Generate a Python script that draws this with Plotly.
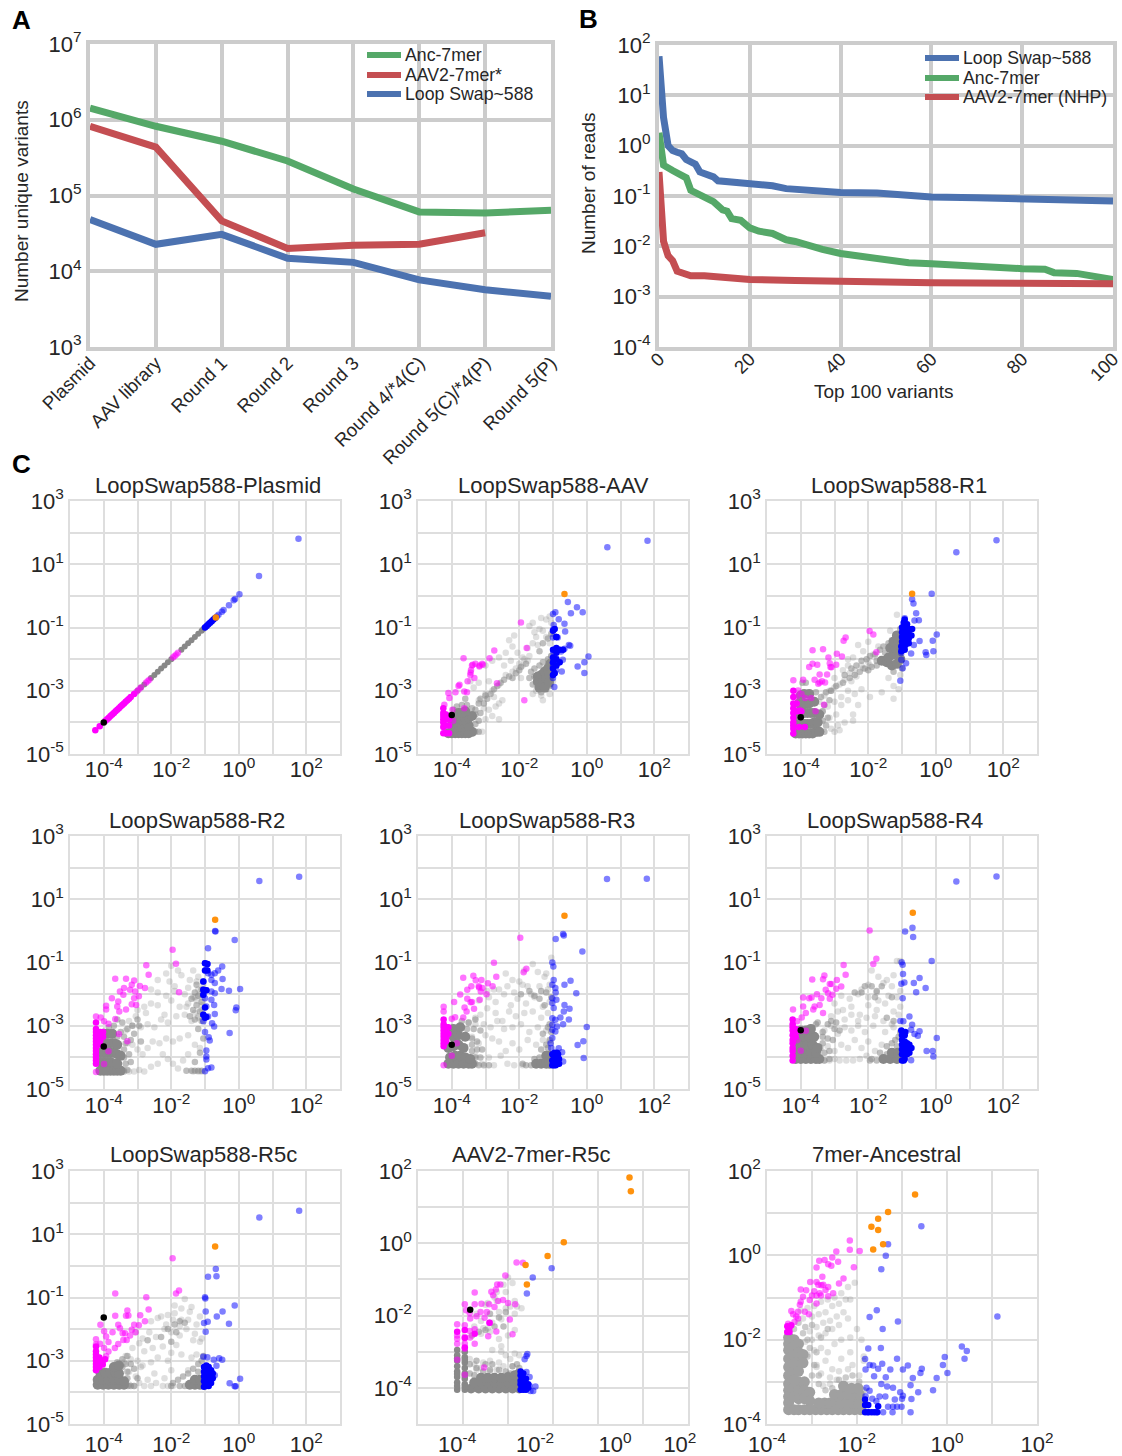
import plotly.graph_objects as go

FONT = "Liberation Sans"
INK = "#262626"
W, H = 1122, 1456

# ---------- Panel A ----------
ROUNDS = ["Plasmid", "AAV library", "Round 1", "Round 2", "Round 3", "Round 4/*4(C)", "Round 5(C)/*4(P)", "Round 5(P)"]
A_ANC = [1420000, 820000, 520000, 286000, 122000, 60700, 58900, 63700]
A_AAV2 = [820000, 435000, 46200, 20000, 22000, 22700, 32300]
A_LOOP = [48200, 22700, 30700, 14800, 13100, 7700, 5700, 4680]

# ---------- Panel B ----------
B_LOOP_X = [0, 1, 2, 3, 4, 5, 6, 7, 8, 9, 10, 12, 13, 16, 18, 22, 25, 28, 30, 33, 36, 40, 48, 55, 60, 70, 80, 90, 100]
B_LOOP_Y = [60, 3.6, 1.0, 0.8, 0.74, 0.69, 0.53, 0.47, 0.43, 0.3, 0.28, 0.24, 0.2, 0.19, 0.18, 0.175, 0.16, 0.14, 0.136, 0.125, 0.12, 0.117, 0.115, 0.105, 0.096, 0.092, 0.09, 0.082, 0.08]
B_ANC_X = [0, 1, 3, 5, 6, 7, 9, 10, 12, 14, 15, 16, 18, 20, 22, 25, 28, 30, 33, 36, 40, 43, 45, 50, 55, 60, 65, 70, 73, 80, 85, 87, 92, 95, 100]
B_ANC_Y = [1.8, 0.41, 0.32, 0.245, 0.23, 0.13, 0.107, 0.095, 0.077, 0.053, 0.05, 0.0355, 0.033, 0.0233, 0.02, 0.018, 0.0135, 0.0125, 0.01, 0.0087, 0.0072, 0.0067, 0.0059, 0.0053, 0.0047, 0.0045, 0.0042, 0.0041, 0.0037, 0.0036, 0.0035, 0.003, 0.0029, 0.0026, 0.0022]
B_AAV2_X = [0, 1, 2, 3, 4, 5, 7, 10, 15, 20, 30, 40, 60, 80, 100]
B_AAV2_Y = [0.3, 0.0126, 0.0065, 0.0052, 0.0032, 0.003, 0.0026, 0.0026, 0.0023, 0.0022, 0.0021, 0.002, 0.0019, 0.00185, 0.0018]

# ---------- Panel C: values are log10 of the axis values ----------
# 1 LoopSwap588-Plasmid
P1_GD_X = [-3, -2.9, -2.8, -2.6, -2.5, -2.4, -2.3, -2.2, -2.1, -2.0, -1.7, -1.6, -1.5, -1.4, -1.3, -1.2, -1.1, -1.05]
P1_GD_Y = [-3, -2.9, -2.8, -2.6, -2.5, -2.4, -2.3, -2.2, -2.1, -2.0, -1.7, -1.6, -1.5, -1.4, -1.3, -1.2, -1.1, -1.05]
P1_GM_X, P1_GM_Y = [], []
P1_GS_X, P1_GS_Y = [], []
P1_MD_X = [-4.25, -4.12, -3.95, -3.9, -3.85, -3.8, -3.75, -3.7, -3.65, -3.6, -3.55, -3.5, -3.45, -3.4, -3.35, -3.3, -3.25, -3.2, -3.1]
P1_MD_Y = [-4.25, -4.12, -3.95, -3.9, -3.85, -3.8, -3.75, -3.7, -3.65, -3.6, -3.55, -3.5, -3.45, -3.4, -3.35, -3.3, -3.25, -3.2, -3.1]
P1_M_X = [-3.03, -2.97, -2.9, -2.75, -2.7, -2.65, -1.95, -1.9, -1.85, -1.8]
P1_M_Y = [-3.03, -2.97, -2.9, -2.75, -2.7, -2.65, -1.95, -1.9, -1.85, -1.8]
P1_BD_X = [-1, -0.95, -0.9, -0.85, -0.8, -0.75, -0.7]
P1_BD_Y = [-1, -0.95, -0.9, -0.85, -0.8, -0.75, -0.7]
P1_B_X = [1.77, 0.6, 0.02, -0.11, -0.15, -0.29, -0.45, -0.5, -0.6, -0.65]
P1_B_Y = [1.81, 0.63, 0.05, -0.1, -0.14, -0.3, -0.45, -0.5, -0.6, -0.65]
P1_O_X = [-0.68]
P1_O_Y = [-0.68]
P1_K_X = [-4]
P1_K_Y = [-4]

# 2 LoopSwap588-AAV
P2_GD_X = [-4.1, -4.0, -3.9, -3.8, -3.7, -3.6, -3.5, -3.4, -4.0, -3.9, -3.8, -3.7, -3.6, -3.5, -3.9, -3.8, -3.7, -3.6, -3.5, -3.4, -3.8, -3.7, -3.6, -1.45, -1.35, -1.25, -1.15, -1.08, -1.45, -1.3, -1.2, -1.1, -1.4, -1.25, -1.12]
P2_GD_Y = [-4.34, -4.34, -4.34, -4.34, -4.34, -4.34, -4.34, -4.3, -4.1, -4.15, -4.1, -4.15, -4.1, -4.1, -3.95, -3.9, -3.9, -3.9, -3.85, -3.8, -3.7, -3.7, -3.65, -2.55, -2.5, -2.4, -2.3, -2.15, -2.7, -2.7, -2.6, -2.5, -2.9, -2.9, -2.75]
P2_GM_X = [-3.3, -3.2, -3.3, -3.2, -3.4, -3.55, -3.7, -3.85, -3.3, -3.15, -3.05, -2.95, -2.85, -2.75, -2.65, -2.55, -2.45, -2.3, -2.1, -1.95, -1.7, -1.65, -1.55, -1.4, -1.3, -1.15, -1.05, -1.6, -1.35, -1.2, -1.1, -1.05, -1.3, -1.15, -1.05, -1.4, -3.6, -3.95, -3.3, -3.2, -3.15, -2.2, -2.0, -1.8, -3.0, -1.55, -1.5]
P2_GM_Y = [-4.3, -4.3, -4.05, -3.95, -3.55, -3.45, -3.45, -3.5, -3.75, -3.7, -3.4, -3.25, -3.1, -2.95, -2.85, -2.75, -2.65, -2.55, -2.45, -2.25, -2.6, -2.4, -2.3, -2.2, -2.1, -2.0, -1.9, -2.8, -3.05, -2.95, -2.85, -2.65, -1.5, -1.35, -1.2, -1.75, -3.25, -3.6, -3.6, -3.4, -3.25, -2.6, -2.35, -2.15, -3.15, -2.55, -2.75]
P2_GS_X = [-3.2, -3, -2.8, -2.6, -2.4, -2.2, -2, -1.85, -1.7, -2.9, -2.2, -2.4, -2.6, -2.8, -3, -2.15, -2.3, -1.5, -1.6, -1.4, -1.6, -1.2, -1.05, -1.35, -1.7, -1.3, -1.1, -1.05, -1.75, -1.9, -2.1, -2.5, -2.7, -2.6, -3.1, -3, -2.8, -2.6, -1.6, -1.3, -1.5, -1.1, -1, -2.05, -2.25, -2.45, -1.95, -1.55, -1.45, -1.2, -1.9, -1.75, -3.35, -3.2, -3.05, -2.9, -2.75, -1.35, -1.1, -3.45, -1.0]
P2_GS_Y = [-3.3, -3.1, -3, -2.8, -2.5, -2.4, -2.15, -2, -1.9, -2.7, -1.6, -1.8, -1.95, -2.05, -2.2, -1.25, -1.4, -1.3, -1.5, -1.05, -0.85, -0.75, -0.85, -0.7, -0.95, -1.1, -1.5, -1.9, -2.05, -2.2, -2.3, -3.3, -3.5, -3.9, -4.3, -3.9, -3.8, -3.4, -3.1, -3.3, -3, -3.1, -2.7, -1.8, -2.05, -2.2, -2.6, -1.15, -1.55, -1.3, -1.95, -1.65, -2.9, -2.75, -3.55, -3.6, -3.2, -3.15, -0.65, -2.7, -1.2]
P2_MD_X = [-4.25, -4.25, -4.25, -4.25, -4.25, -4.25, -4.25, -4.17, -4.17, -4.17, -4.17, -4.08, -4.08, -4.08]
P2_MD_Y = [-3.55, -3.7, -3.8, -3.9, -4.0, -4.15, -4.34, -3.75, -3.9, -4.1, -4.34, -3.9, -4.1, -4.34]
P2_M_X = [-3.65, -2.74, -2.88, -3.08, -3.18, -3.3, -3.38, -3.43, -3.33, -3.53, -3.45, -3.77, -2.66, -1.95, -1.78, -1.85, -4.1, -3.89, -4.07, -3.63, -4.22, -3.55, -3.8, -3.98, -3.96, -3.63, -3.18, -3.1, -3.4, -3.44]
P2_M_Y = [-1.97, -1.73, -1.97, -2.18, -2.23, -2.15, -2.18, -2.34, -2.6, -2.7, -2.5, -2.81, -2.76, -0.84, -1.65, -3.3, -3.07, -3.05, -3.23, -3.02, -3.44, -3.05, -2.85, -3.6, -3.95, -3.55, -2.2, -2.15, -2.2, -2.42]
P2_BD_X = [-1, -1, -1, -1, -1, -0.9, -0.9, -0.9, -0.9, -0.8, -0.8, -0.9, -0.7, -0.95, -1, -0.9, -0.95]
P2_BD_Y = [-1.1, -1.7, -1.95, -2.1, -2.3, -1.65, -1.8, -2, -2.2, -1.7, -2.1, -1.3, -1.7, -2.45, -2.5, -1.3, -1.05]
P2_B_X = [0.61, 1.8, -0.56, -0.29, -0.12, -0.47, -0.93, -1, -0.83, -0.66, -0.98, -0.64, -1, -0.86, -1, -0.53, -0.49, -0.66, -0.86, -0.76, -0.99, 0.05, -0.07, -0.27, -0.07, -0.71, -0.91, -1, -0.86, -0.74, -0.91, -1, -0.96, -1, -0.96]
P2_B_Y = [1.54, 1.74, -0.19, -0.36, -0.52, -0.55, -0.52, -0.57, -0.74, -0.88, -0.92, -1.13, -1.07, -1.32, -1.32, -1.55, -1.58, -1.67, -1.7, -1.76, -1.79, -1.92, -2.1, -2.23, -2.44, -2.02, -1.97, -2.13, -2.13, -2.39, -2.34, -2.6, -2.88, -2.23, -2.44]
P2_O_X = [-0.66]
P2_O_Y = [0.06]
P2_K_X = [-4]
P2_K_Y = [-3.77]

# 3 LoopSwap588-R1
P3_GD_X = [-4.15, -4.05, -3.95, -3.85, -3.75, -3.65, -3.55, -3.45, -4.1, -4.0, -3.9, -3.8, -3.7, -3.6, -3.5, -4.1, -4.0, -3.9, -3.8, -3.7, -3.6, -3.45, -4.05, -3.95, -3.85, -3.75, -3.6, -4.0, -3.9, -3.75, -1.6, -1.45, -1.3, -1.15, -1.05, -1.4, -1.25, -1.1, -1.35, -1.2, -1.08, -1.25, -1.1, -1.15]
P3_GD_Y = [-4.35, -4.35, -4.35, -4.35, -4.35, -4.35, -4.3, -4.3, -4.05, -4.05, -4.05, -4.05, -4.05, -4, -4, -3.75, -3.75, -3.7, -3.7, -3.7, -3.7, -3.75, -3.4, -3.45, -3.4, -3.4, -3.35, -3.15, -3.1, -3.1, -2.05, -2.1, -2.2, -2.15, -2.0, -1.95, -1.85, -1.8, -1.65, -1.65, -1.55, -1.45, -1.4, -1.25]
P3_GM_X = [-3.4, -3.3, -3.25, -3.35, -3.2, -3.35, -3.3, -3.15, -3.4, -3.55, -3.25, -3.1, -2.95, -2.75, -2.55, -2.4, -2.25, -2.1, -2.0, -2.7, -2.5, -2.35, -2.2, -2.05, -1.95, -1.8, -1.65, -1.55, -1.4, -1.3, -1.2, -1.05, -1.0, -1.25, -3.85, -3.95, -1.9, -1.75, -1.75, -1.55, -1.5]
P3_GM_Y = [-4.3, -4.3, -4.1, -3.95, -3.85, -3.65, -3.45, -3.3, -3.2, -3.05, -3.05, -3.0, -2.85, -2.75, -2.6, -2.5, -2.4, -2.3, -2.35, -2.5, -2.3, -2.2, -2.05, -2.0, -1.9, -1.85, -1.7, -1.6, -1.5, -1.4, -1.3, -1.05, -2.3, -2.4, -2.75, -2.75, -2.25, -2.2, -2.05, -2, -1.8]
P3_GS_X = [-3.45, -3.3, -3.15, -3, -2.85, -2.7, -2.55, -2.4, -2.2, -2, -3.35, -3.2, -3, -2.8, -2.6, -2.5, -2.35, -2.15, -1.95, -2.75, -2.6, -2.45, -3.15, -2.95, -2.8, -2.6, -2.4, -2.2, -3.1, -2.9, -2.7, -3.0, -2.85, -2.45, -2.3, -3.1, -2.45, -1.95, -1.6, -1.4, -1.25, -1.25, -1.1, -1.05, -2.15, -2.0, -1.85, -1.7, -2.3, -2.6, -3.0, -1.15, -1.35]
P3_GS_Y = [-3.35, -3.15, -3.0, -2.9, -2.8, -2.65, -2.45, -2.35, -2.2, -2.1, -3.65, -3.5, -3.35, -3.2, -3.0, -2.7, -2.55, -2.3, -2.2, -2.35, -2.2, -1.95, -3.85, -3.75, -3.45, -3.3, -3.1, -2.95, -4.2, -4.1, -4, -4.3, -4.25, -3.75, -3.45, -3.0, -3.95, -3.2, -3.05, -2.6, -2.85, -3.25, -2.95, -2.5, -1.75, -1.45, -1.85, -1.6, -1.55, -2.0, -2.6, -0.6, -1.1]
P3_MD_X = [-4.22, -4.22, -4.22, -4.22, -4.22, -4.22, -4.22, -4.22, -4.22, -4.22, -4.12, -4.12, -4.05, -4.05, -3.98, -3.88]
P3_MD_Y = [-3.0, -3.2, -3.4, -3.55, -3.7, -3.85, -4, -4.1, -4.2, -4.35, -3.4, -3.65, -3.65, -4.15, -3.65, -4.15]
P3_M_X = [-3.65, -3.34, -2.67, -2.73, -1.96, -1.85, -2.93, -2.78, -3.18, -3.14, -2.95, -3.09, -3.22, -3.65, -3.51, -3.75, -3.44, -3.59, -3.44, -3.28, -4.22, -3.93, -1.76, -4.08, -3.98, -3.87, -3.69, -4.11, -3.31, -3.56, -4.03, -3.12, -3.37, -3.48]
P3_M_Y = [-1.72, -1.69, -1.32, -1.42, -1.11, -1.22, -1.83, -1.92, -1.95, -2.13, -2.18, -2.26, -2.49, -2.15, -2.18, -2.25, -2.49, -2.65, -2.74, -2.74, -2.67, -2.65, -1.78, -2.99, -3.1, -3.23, -3.23, -3.18, -3.44, -3.65, -3.6, -2.25, -2.7, -2.78]
P3_BD_X = [-1, -1, -1, -1, -0.9, -0.9, -0.9, -0.9, -0.9, -0.8, -0.8, -0.8, -0.8, -0.95, -0.85, -1.02, -1.02, -0.7, -0.72, -0.92, -0.92]
P3_BD_Y = [-1.0, -1.15, -1.3, -1.45, -0.95, -1.1, -1.25, -1.4, -1.55, -1.05, -1.2, -1.35, -1.5, -0.85, -0.9, -1.6, -1.75, -1.05, -1.25, -0.75, -1.7]
P3_B_X = [1.8, 0.61, -0.12, -0.7, -0.66, -0.58, -0.5, -0.63, -0.92, -0.93, 0.03, -0.09, -0.48, -0.65, -0.73, -0.3, -0.28, -0.07, -0.88, -0.98, -1.05, -1.02, -1, -1.02]
P3_B_Y = [1.76, 1.38, 0.07, -0.11, -0.24, -0.55, -0.77, -0.78, -0.71, -0.81, -1.22, -1.42, -1.43, -1.55, -1.82, -1.78, -1.87, -1.75, -2.13, -2.29, -2.68, -2.02, -1.7, -1.81]
P3_O_X = [-0.7]
P3_O_Y = [0.07]
P3_K_X = [-4]
P3_K_Y = [-3.84]

# 4 LoopSwap588-R2
P4_GD_X = [-4.1, -4, -3.9, -3.8, -3.7, -3.6, -3.5, -4.1, -4, -3.9, -3.8, -3.7, -3.6, -4.1, -4, -3.9, -3.8, -3.7, -3.6, -3.5, -4, -3.9, -3.8, -3.7, -3.6, -4, -3.9, -3.75]
P4_GD_Y = [-4.42, -4.42, -4.42, -4.42, -4.42, -4.42, -4.42, -4.15, -4.15, -4.15, -4.15, -4.2, -4.2, -3.85, -3.85, -3.85, -3.85, -3.85, -3.9, -3.95, -3.55, -3.55, -3.55, -3.55, -3.6, -3.25, -3.25, -3.25]
P4_GM_X = [-3.4, -3.3, -3.35, -3.4, -3.2, -3.25, -3.4, -3.35, -3.2, -3.4, -3.5, -3.3, -3.1, -3.15, -2.95, -3.45, -3.6, -3.0, -1.55, -1.4, -1.3, -1.2, -1.1, -1.3, -1.15, -1.05, -1.2, -1.1, -1.3, -1.15, -1.25, -1.1, -1.2, -1.1, -1.3, -1.25, -1.4, -1.35, -1.45, -2.9, -3.6, -3.85, -3.7]
P4_GM_Y = [-4.45, -4.4, -4.2, -4.0, -4.15, -3.9, -3.75, -3.55, -3.45, -3.35, -3.2, -3.1, -3.25, -3.0, -3.0, -2.9, -2.8, -2.8, -4.42, -4.42, -4.42, -4.42, -4.42, -4.15, -3.85, -3.4, -3.1, -2.85, -2.8, -2.55, -2.35, -2.25, -2.05, -1.85, -1.95, -1.7, -2.15, -2.5, -2.7, -3.5, -3.35, -3.05, -3.0]
P4_GS_X = [-3.4, -3.25, -3.1, -2.95, -2.8, -2.6, -2.4, -2.25, -2.1, -1.95, -1.8, -1.65, -1.5, -1.35, -1.2, -1.1, -3.3, -3.15, -3, -2.85, -2.7, -2.55, -2.35, -2.15, -1.95, -1.75, -1.5, -1.3, -1.15, -3.35, -3.15, -2.9, -2.7, -2.5, -2.3, -2.1, -1.85, -1.6, -1.4, -1.2, -3, -2.8, -2.6, -2.4, -2.2, -2, -1.75, -1.5, -1.3, -1.1, -2.6, -2.4, -2.15, -1.9, -1.6, -1.3, -1.2, -3.05, -3.25, -2.75, -2.4, -2.05, -2.15, -1.9, -1.7, -1.45, -1.25, -1.05, -1.15, -1.25, -1.1, -1.2, -1.35, -1.5, -2.0, -1.8, -1.35, -1.55, -1.1, -1.2]
P4_GS_Y = [-4.4, -4.45, -4.45, -4.4, -4.45, -4.3, -4.2, -3.9, -4.05, -4.2, -4.35, -4.1, -3.9, -4.45, -4.45, -4.45, -3.55, -3.6, -3.75, -3.9, -3.7, -3.5, -3.55, -3.4, -3.5, -3.4, -3.3, -3.6, -3.7, -3.15, -3, -3.05, -2.95, -3.05, -2.8, -2.9, -2.7, -2.65, -2.85, -2.75, -2.5, -2.4, -2.3, -2.35, -2.65, -2.2, -2.4, -2.3, -2.6, -2.5, -1.85, -1.95, -2.05, -1.9, -2, -2.1, -1.85, -2.7, -2.85, -2.6, -1.55, -1.6, -1.35, -1.75, -1.4, -1.55, -1.6, -1.7, -2, -2.2, -2.35, -1.45, -1.25, -1.8, -1.1, -1.25, -2.1, -2.4, -2.1, -2.7]
P4_MD_X = [-4.23, -4.23, -4.23, -4.23, -4.23, -4.23, -4.23, -4.23, -4.23, -4.23, -4.23, -4.23, -4.23, -4.1, -4.1, -4.1, -4.1, -4.02, -4.02]
P4_MD_Y = [-2.9, -3.1, -3.2, -3.3, -3.4, -3.5, -3.6, -3.7, -3.8, -3.9, -4, -4.1, -4.2, -3.2, -3.3, -3.45, -3.6, -3.35, -3.2]
P4_M_X = [-1.96, -1.86, -2.74, -2.67, -3.66, -3.34, -3.1, -3.17, -3.4, -2.78, -2.93, -3.22, -3.52, -3.42, -3.07, -2.96, -3.1, -3.76, -3.57, -3.17, -3.04, -3.93, -3.6, -3.34, -3.54, -1.77, -3.93, -4.23, -4.09, -3.99, -3.86, -3.66, -3.55, -3.3, -3.86, -3.99, -4.23]
P4_M_Y = [-0.6, -1.04, -1.09, -1.39, -1.51, -1.51, -1.57, -1.7, -1.81, -1.81, -1.74, -1.86, -1.92, -2.02, -1.92, -2.07, -2.13, -2.13, -2.23, -2.32, -2.34, -2.37, -2.39, -2.49, -2.55, -1.94, -2.49, -2.71, -2.74, -2.86, -2.94, -2.79, -3.26, -3.49, -3.81, -4.21, -4.46]
P4_BD_X = [-1, -1, -1.05, -1.05, -1.05, -1.0, -1.05, -1.0, -0.96, -0.96, -0.93, -0.93]
P4_BD_Y = [-1.02, -1.25, -1.6, -1.86, -2.02, -2.42, -2.65, -2.75, -1.88, -2.72, -1.05, -1.25]
P4_B_X = [1.79, 0.61, -0.7, -0.69, -0.12, -0.91, -1, -0.93, -0.96, -0.91, -0.49, -0.61, -0.71, -0.81, -0.48, -0.71, -0.81, -1.05, -1.05, -0.96, -0.81, -0.71, -0.51, -0.29, 0.04, -1.05, -1, -0.81, -0.96, -0.73, -0.07, -0.09, -0.71, -1.05, -0.91, -1.05, -0.79, -0.73, -1, -0.27, -0.89, -0.86, -0.96, -0.96, -0.96, -0.81, -0.91, -1]
P4_B_Y = [1.71, 1.58, 0, -0.02, -0.29, -0.55, -1.02, -1.05, -1.23, -1.34, -1.13, -1.25, -1.34, -1.39, -1.52, -1.65, -1.55, -1.6, -1.86, -1.88, -1.92, -1.97, -1.84, -1.89, -1.84, -2.02, -2.13, -2.18, -2.39, -2.34, -2.42, -2.51, -2.63, -2.65, -2.71, -2.86, -2.92, -3.02, -3.2, -3.23, -3.36, -3.47, -3.78, -3.97, -4.07, -4.32, -4.34, -4.44]
P4_O_X = [-0.7]
P4_O_Y = [0.35]
P4_K_X = [-4]
P4_K_Y = [-3.66]

# 5 LoopSwap588-R3
P5_GD_X = [-4.1, -3.95, -3.8, -3.65, -3.5, -3.4, -4.05, -3.9, -3.75, -3.6, -3.45, -4.1, -3.95, -3.8, -3.65, -3.95, -3.8, -3.6, -3.95, -3.75, -1.5, -1.35, -1.2, -1.1, -1.2, -1.1]
P5_GD_Y = [-4.2, -4.2, -4.2, -4.2, -4.2, -4.2, -4, -3.95, -3.95, -4, -4.05, -3.7, -3.65, -3.6, -3.7, -3.35, -3.3, -3.35, -3.1, -3.05, -4.2, -4.2, -4.2, -4.2, -3.95, -3.95]
P5_GM_X = [-3.3, -3.2, -3.05, -2.9, -3.3, -3.15, -3.4, -3.25, -3.1, -3.4, -3.25, -3.4, -3.55, -3.35, -3.15, -3.7, -3.5, -3.3, -1.8, -1.9, -1.55, -1.35, -1.2, -1.1, -1.05, -1.15, -1.1, -1.3, -1.25, -1.4, -1.55, -1.7, -1.95, -1.05, -1.2, -1.35, -1.65, -1.4, -1.15]
P5_GM_Y = [-4.2, -4.25, -4.25, -4.25, -4.0, -4.0, -3.8, -3.75, -3.75, -3.6, -3.5, -3.4, -3.1, -3.1, -3.15, -2.85, -2.9, -2.8, -4.25, -4.2, -4.05, -3.75, -3.6, -3.45, -3.2, -3.05, -2.95, -3.25, -2.35, -2.15, -2.05, -1.9, -2.0, -2.1, -1.95, -1.9, -4.25, -4.0, -3.7]
P5_GS_X = [-3.3, -3.1, -2.9, -2.75, -2.55, -2.35, -2.15, -1.9, -3.4, -3.2, -3, -2.8, -2.6, -2.4, -2.2, -2, -1.75, -1.5, -1.3, -1.1, -3.3, -3.05, -2.85, -2.65, -2.45, -2.2, -1.95, -1.7, -1.45, -1.2, -3.15, -2.95, -2.7, -2.5, -2.3, -2.1, -1.85, -1.6, -1.35, -1.15, -2.9, -2.7, -2.45, -2.25, -2.05, -1.8, -1.55, -1.3, -1.1, -2.6, -2.35, -2.15, -1.9, -1.65, -1.4, -1.15, -3.2, -3.3, -3.5, -2.95, -2.2, -2.0, -1.75, -1.45, -1.25, -1.1, -1.6, -1.85, -2.4, -2.75, -1.05, -1.2]
P5_GS_Y = [-3.95, -4.2, -4.0, -4.25, -3.95, -4.2, -4.25, -4.25, -3.35, -3.55, -3.3, -3.4, -3.5, -3.8, -3.55, -3.75, -3.45, -3.6, -3.45, -3.5, -2.95, -2.95, -3.05, -2.85, -3.1, -3.05, -2.95, -3.2, -3.05, -3.15, -2.65, -2.45, -2.6, -2.85, -2.55, -2.7, -2.6, -2.55, -2.75, -2.6, -2.1, -2.25, -2.0, -2.35, -2.15, -2.3, -2.1, -2.4, -2.25, -1.85, -1.75, -1.95, -1.7, -2, -1.75, -1.85, -2.2, -2.75, -2.9, -1.9, -1.55, -1.6, -1.75, -1.3, -1.45, -1.7, -1.05, -1.25, -1.35, -1.85, -0.85, -1.35]
P5_MD_X = [-4.24, -4.24, -4.24, -4.24, -4.24, -4.24, -4.24, -4.24, -4.24, -4.16, -4.16, -4.16, -4.16, -4.1, -4.1]
P5_MD_Y = [-2.8, -2.95, -3.05, -3.15, -3.25, -3.35, -3.45, -3.55, -3.65, -3.05, -3.2, -3.35, -3.5, -3.25, -3.05]
P5_M_X = [-1.97, -2.75, -1.79, -1.87, -2.68, -3.66, -3.36, -3.29, -3.12, -2.93, -2.79, -3.42, -3.19, -3.09, -3.54, -3.14, -2.97, -3.75, -3.17, -3.54, -3.93, -3.44, -3.62, -3.34, -3.56, -3.66, -4, -3.9, -4.24, -4.24, -3.85, -4, -4.24, -3.2, -3.4]
P5_M_Y = [-0.22, -1.01, -1.2, -1.31, -1.45, -1.48, -1.42, -1.56, -1.55, -1.66, -1.75, -1.75, -1.79, -1.81, -1.86, -1.92, -2, -2.01, -2.18, -2.15, -2.25, -2.26, -2.42, -2.46, -2.55, -2.74, -2.78, -2.73, -2.55, -2.4, -3.55, -3.95, -4.25, -1.75, -2.25]
P5_BD_X = [-1.02, -0.97, -0.92, -0.87, -0.82, -1.02, -0.95, -0.88, -0.82, -0.98, -0.9, -0.85, -1.02, -0.95, -0.88]
P5_BD_Y = [-4.25, -4.25, -4.25, -4.2, -4.2, -4.1, -4.1, -4.1, -4.05, -3.95, -3.95, -3.9, -3.9, -3.85, -3.85]
P5_B_X = [1.78, 0.6, -0.7, -0.68, -0.92, -0.13, -1.02, -0.99, -0.98, -1.02, -0.93, -0.92, -0.48, -0.66, -0.31, -1.02, -0.9, -1.02, -0.98, -0.66, -0.51, -0.68, -0.78, -0.93, -1.02, -0.53, -0.7, -0.88, -1.02, -1.02, -0.93, -1.02, 0, -0.1, -0.27, -0.09, -1.07, -1.05, -0.83, -0.73, -0.7]
P5_B_Y = [1.65, 1.64, -0.1, -0.15, -0.26, -0.65, -1, -1.13, -1.55, -1.7, -1.81, -1.95, -1.58, -1.7, -1.97, -2.13, -2.18, -2.28, -2.44, -2.34, -2.46, -2.55, -2.74, -2.81, -2.76, -2.8, -2.95, -3.02, -2.97, -3.13, -3.18, -3.39, -3.04, -3.49, -3.61, -4.02, -3.55, -3.7, -3.71, -3.84, -4.13]
P5_O_X = [-0.66]
P5_O_Y = [0.48]
P5_K_X = [-4]
P5_K_Y = [-3.6]

# 6 LoopSwap588-R4
P6_GD_X = [-4.15, -4, -3.85, -3.7, -3.55, -3.45, -4.15, -4, -3.85, -3.7, -3.55, -4.1, -3.95, -3.8, -3.65, -3.5, -4.05, -3.9, -3.75, -3.6, -4.0, -3.85, -3.7, -1.55, -1.35, -1.15, -1.3, -1.12]
P6_GD_Y = [-4.05, -4.05, -4.05, -4.05, -4.05, -4.05, -3.85, -3.85, -3.85, -3.85, -3.85, -3.6, -3.6, -3.6, -3.6, -3.7, -3.35, -3.35, -3.35, -3.35, -3.15, -3.15, -3.1, -4.05, -4.05, -4.05, -3.85, -3.85]
P6_GM_X = [-3.3, -3.15, -3.3, -3.15, -3.35, -3.2, -3.05, -3.35, -3.0, -2.85, -3.1, -2.95, -3.5, -3.55, -1.9, -1.95, -1.65, -1.45, -1.3, -1.2, -1.1, -1.05, -1.25, -1.45, -1.75, -1.9, -2.2, -2.1, -1.8, -2.4, -1.6, -1.3, -1.75, -1.45, -1.15, -3.35, -3.2]
P6_GM_Y = [-4.1, -4.05, -3.85, -3.8, -3.55, -3.4, -3.45, -3.35, -3.1, -3.15, -2.85, -2.9, -2.9, -2.95, -4.05, -4.1, -3.85, -3.65, -3.55, -3.45, -3.35, -3.2, -2.85, -2.75, -1.9, -1.75, -1.95, -1.75, -2.1, -1.95, -1.75, -2.1, -4.1, -3.9, -3.65, -3.2, -2.95]
P6_GS_X = [-3.3, -3.15, -3, -2.85, -2.65, -2.45, -2.25, -2.05, -3.4, -3.2, -3, -2.8, -2.6, -2.4, -2.2, -2, -1.8, -1.6, -3.3, -3.1, -2.9, -2.7, -2.5, -2.3, -2.1, -1.85, -1.5, -1.25, -3.1, -2.9, -2.7, -2.5, -2.3, -2.05, -1.8, -1.55, -1.3, -1.1, -3.0, -2.75, -2.5, -2.25, -2.0, -1.75, -1.5, -1.25, -1.05, -2.8, -2.55, -2.3, -2, -1.7, -1.4, -1.15, -2.2, -2, -1.75, -1.55, -1.3, -1.05, -1.7, -1.9, -1.45, -1.25, -1.15, -1.05]
P6_GS_Y = [-4.1, -4.1, -4.05, -4.1, -4.1, -4.1, -4.05, -3.95, -3.7, -3.65, -3.8, -3.6, -3.7, -3.45, -3.7, -3.5, -3.8, -3.6, -3.15, -3.0, -3.25, -3.05, -3.15, -3.0, -3.2, -3.0, -3.2, -3.05, -2.7, -2.55, -2.8, -2.65, -2.85, -2.75, -2.7, -2.85, -2.95, -2.65, -2.3, -2.5, -2.4, -2.65, -2.35, -2.5, -2.3, -2.55, -2.4, -2.05, -2.15, -2.0, -2.1, -2.2, -2.05, -2.1, -1.85, -1.7, -1.95, -1.65, -1.75, -1.9, -1.45, -1.25, -1.55, -1.4, -0.95, -0.95]
P6_MD_X = [-4.24, -4.24, -4.24, -4.24, -4.24, -4.24, -4.24, -4.24, -4.24, -4.24, -4.24, -4.15, -4.15, -4.15, -4.08, -4.0]
P6_MD_Y = [-2.8, -2.95, -3.05, -3.15, -3.3, -3.45, -3.55, -3.7, -3.8, -3.95, -4.1, -3.1, -3.2, -3.35, -3.15, -3.15]
P6_M_X = [-1.96, -1.76, -1.85, -2.73, -2.67, -3.66, -3.3, -3.34, -2.93, -3.14, -3.09, -2.8, -2.95, -3.26, -3.19, -3.06, -3.14, -3.52, -3.68, -3.93, -3.75, -3.39, -3.44, -3.59, -3.93, -4.23, -3.63, -3.85, -3.34, -3.97, -4.11, -3.85, -4.11, -4]
P6_M_Y = [0.01, -0.88, -1.05, -1.08, -1.39, -1.54, -1.41, -1.53, -1.55, -1.68, -1.68, -1.76, -1.83, -1.86, -1.97, -2.02, -2.15, -2, -2.11, -2.11, -2.13, -2.13, -2.34, -2.39, -2.39, -2.49, -2.49, -2.6, -2.6, -2.74, -2.86, -3.16, -3.46, -3.79]
P6_BD_X = [-1, -1, -1, -1, -1, -1, -0.92, -0.92, -0.92, -0.92, -0.92, -0.85, -0.85, -0.85, -0.78, -0.78, -0.72, -0.9, -1.02, -0.95]
P6_BD_Y = [-3.3, -3.45, -3.6, -3.75, -3.9, -4.1, -3.3, -3.5, -3.65, -3.85, -4.05, -3.55, -3.7, -3.9, -3.6, -3.85, -3.7, -3.2, -3.15, -4.1]
P6_B_X = [1.8, 0.61, -0.69, -0.91, -0.67, -0.12, -1.01, -0.98, -0.97, -0.48, -0.93, -1.02, -0.65, -0.3, -0.58, -0.98, -0.78, -1.05, -0.96, -0.7, -0.73, -0.48, -0.63, -0.53, 0.03, -0.27, -0.09, -0.07, -0.73, -0.85]
P6_B_Y = [1.72, 1.56, 0.1, -0.02, -0.19, -0.95, -0.99, -1.07, -1.36, -1.49, -1.63, -1.67, -1.65, -1.81, -1.94, -2.13, -2.71, -2.85, -2.86, -2.97, -3.13, -3.17, -3.26, -3.32, -3.39, -3.8, -3.8, -3.97, -4.09, -3.7]
P6_O_X = [-0.68]
P6_O_Y = [0.57]
P6_K_X = [-4]
P6_K_Y = [-3.14]

# 7 LoopSwap588-R5c
P7_GD_X = [-4.18, -4.02, -3.86, -3.7, -3.54, -3.4, -4.18, -4.02, -3.86, -3.7, -3.54, -3.4, -4.1, -3.95, -3.8, -3.65, -3.55, -3.7, -3.55, -1.45, -1.3, -1.15, -1.3, -1.15]
P7_GD_Y = [-3.76, -3.76, -3.76, -3.76, -3.76, -3.76, -3.6, -3.6, -3.6, -3.6, -3.6, -3.65, -3.38, -3.38, -3.38, -3.38, -3.4, -3.2, -3.15, -3.76, -3.76, -3.76, -3.6, -3.6]
P7_GM_X = [-3.2, -3.1, -3.3, -3.3, -3.45, -3.35, -3.6, -3.45, -3.3, -3.2, -3.1, -3.0, -2.0, -1.95, -1.8, -1.65, -1.5, -1.35, -1.2, -1.1, -1.05, -2.7, -2.3, -2.1, -1.9, -1.75, -1.6, -2.0, -1.85, -3.28, -1.75, -1.6, -1.2]
P7_GM_Y = [-3.8, -3.8, -3.55, -3.35, -3.2, -3.1, -3.05, -2.95, -2.85, -3.1, -3.25, -3.55, -3.8, -3.7, -3.6, -3.5, -3.4, -3.25, -3.1, -3.0, -2.85, -2.35, -2.25, -2.0, -1.85, -1.75, -1.8, -2.4, -2.1, -3.8, -3.8, -3.8, -3.35]
P7_GS_X = [-3.25, -3.1, -2.95, -2.8, -2.6, -2.45, -2.25, -2.1, -1.95, -3.4, -3.25, -3.05, -2.9, -2.7, -2.5, -2.2, -2.0, -1.5, -3.35, -3.2, -3.0, -2.85, -2.6, -2.4, -2.1, -1.7, -1.4, -1.25, -3.15, -2.95, -2.8, -2.55, -2.25, -2.0, -1.85, -1.35, -1.15, -3.05, -2.85, -2.65, -2.45, -2.2, -2.0, -1.75, -1.55, -1.3, -1.1, -2.6, -2.4, -2.15, -1.95, -1.75, -1.5, -1.25, -2.3, -2.1, -1.9, -1.7, -1.45, -1.15, -1.9, -1.7, -1.6, -1.4]
P7_GS_Y = [-3.75, -3.8, -3.7, -3.8, -3.8, -3.7, -3.8, -3.8, -3.8, -3.05, -3.35, -3.5, -3.2, -3.6, -3.4, -3.55, -3.3, -3.3, -2.85, -2.95, -3, -3.15, -3.05, -2.9, -3, -2.8, -2.9, -2.8, -2.6, -2.45, -2.7, -2.6, -2.55, -2.75, -2.5, -2.35, -2.4, -2.1, -2.3, -2.1, -2.25, -2.0, -2.1, -2.2, -2.0, -2.15, -2.3, -1.75, -1.65, -1.85, -1.7, -1.9, -1.7, -1.85, -1.6, -1.55, -1.5, -1.7, -1.45, -1.6, -1.25, -1.35, -1.05, -1.3]
P7_MD_X = [-4.23, -4.23, -4.23, -4.23, -4.23, -4.23, -4.23, -4.23, -4.13, -4.13, -4.13, -4.03, -4.03, -3.96]
P7_MD_Y = [-2.55, -2.7, -2.8, -2.9, -3, -3.1, -3.2, -3.3, -2.9, -3.05, -3.2, -3.0, -3.12, -2.95]
P7_M_X = [-1.96, -3.66, -1.77, -1.86, -2.74, -2.67, -3.3, -3.66, -3.27, -3.34, -2.92, -2.78, -4.1, -3.57, -3.52, -3.1, -2.96, -3.17, -3.99, -3.44, -3.37, -3.06, -3.74, -3.93, -3.22, -3.42, -3.32, -3.86, -3.57, -3.67, -4.23, -4.23, -4.11, -3.99, -3.86, -3.93]
P7_M_Y = [0.24, -0.87, -0.78, -0.87, -0.99, -1.38, -1.41, -1.58, -1.57, -1.58, -1.56, -1.75, -1.86, -1.86, -1.97, -1.86, -1.88, -2.02, -2.07, -2.13, -2.13, -2.1, -2.1, -2.23, -2.2, -2.34, -2.34, -2.41, -2.47, -2.6, -2.32, -2.49, -2.46, -2.6, -2.71, -2.86]
P7_BD_X = [-1.03, -1.03, -1.03, -1.03, -1.03, -0.96, -0.96, -0.96, -0.96, -0.96, -0.89, -0.89, -0.89, -0.89, -0.82, -0.82, -0.82, -0.77, -0.77]
P7_BD_Y = [-3.82, -3.65, -3.5, -3.35, -3.2, -3.8, -3.62, -3.45, -3.3, -3.15, -3.8, -3.6, -3.4, -3.2, -3.7, -3.5, -3.3, -3.55, -3.4]
P7_B_X = [1.79, 0.61, -0.68, -0.91, -0.66, -1, -0.99, -0.12, -0.48, -0.98, -0.65, -0.92, -1.03, -0.29, -0.98, -1.05, -0.93, -0.74, -0.58, -0.49, -0.66, 0.04, -0.27, -0.09, -0.71, -0.12]
P7_B_Y = [1.74, 1.53, -0.1, -0.34, -0.33, -0.99, -1.03, -1.25, -1.44, -1.44, -1.6, -1.77, -1.81, -1.83, -2.08, -2.87, -2.89, -2.97, -2.92, -2.97, -3.16, -3.57, -3.71, -3.81, -3.46, -3.81]
P7_O_X = [-0.7]
P7_O_Y = [0.61]
P7_K_X = [-4]
P7_K_Y = [-1.63]

# 8 AAV2-7mer-R5c
P8_GD_X = [-3.82, -3.65, -3.5, -3.35, -3.2, -3.05, -2.9, -2.75, -3.75, -3.6, -3.45, -3.3, -3.15, -3.0, -2.85, -3.0, -2.85, -2.75, -3.6, -3.45, -3.3, -3.15]
P8_GD_Y = [-4.02, -4.02, -4.02, -4.02, -4.02, -4.02, -4.02, -4.02, -3.85, -3.85, -3.85, -3.85, -3.85, -3.85, -3.85, -3.7, -3.65, -3.6, -3.72, -3.72, -3.72, -3.72]
P8_GC_X = [-4.13, -4.13, -4.13, -4.13, -4.13, -4.13, -4.13, -4.13, -3.96, -3.96, -3.96, -3.96, -3.96, -3.96, -3.96, -3.96, -4.13, -3.96, -4.13, -3.96, -4.13, -3.96]
P8_GC_Y = [-2.95, -3.1, -3.25, -3.4, -3.55, -3.7, -3.85, -4.05, -3.0, -3.15, -3.3, -3.45, -3.6, -3.75, -3.9, -4.05, -3.18, -3.22, -3.62, -3.67, -3.95, -3.97]
P8_GM_X = [-3.85, -3.7, -3.55, -3.4, -3.2, -3.05, -2.9, -2.8, -2.75, -2.95, -3.7, -3.85, -3.75, -3.5, -3.35, -3.8, -3.65, -3.5, -3.3, -3.1, -3.05, -3.2, -3.4]
P8_GM_Y = [-3.6, -3.45, -3.55, -3.5, -3.5, -3.55, -3.4, -3.35, -3.45, -3.6, -3.25, -3.35, -3.65, -3.35, -3.35, -2.55, -2.45, -2.4, -2.3, -2.3, -1.9, -2.05, -1.95]
P8_GS_X = [-3.75, -3.6, -3.4, -3.2, -3.05, -2.9, -2.85, -2.95, -3.1, -3.25, -3.4, -3.55, -3.7, -3.85, -3.0, -2.85, -3.1, -3.3, -3.5, -3.7, -3.55, -3.35, -3.15, -2.95, -3.45, -3.25, -3.05, -2.85, -3.6, -3.4, -3.6, -3.75, -3.45, -3.2, -3.0, -3.15, -2.8, -3.2, -2.7, -2.9, -3.05, -3.35, -3.15, -3.25, -2.85, -2.75]
P8_GS_Y = [-3.35, -3.45, -3.25, -3.3, -3.1, -3.4, -3.05, -3.2, -3.4, -3.5, -3.55, -3.3, -3.5, -3.2, -0.95, -1.6, -1.15, -1.5, -1.7, -1.95, -2.35, -2.2, -2.1, -1.75, -1.65, -1.6, -1.8, -1.95, -2.5, -2.45, -2.15, -2.3, -2.35, -2.65, -2.55, -2.85, -1.75, -1.9, -1.8, -1.1, -1.35, -2.95, -3.0, -1.35, -2.4, -3.1]
P8_MD_X = [-3.96, -4.13, -3.96, -3.96, -3.74, -3.41]
P8_MD_Y = [-2.4, -2.45, -2.62, -2.88, -2.5, -2.2]
P8_M_X = [-2.81, -2.67, -3.06, -3.24, -3.17, -3.27, -3.37, -3.33, -3.74, -3.22, -3.11, -3, -2.84, -3.96, -3.74, -3.59, -3.42, -3.3, -3.93, -3.61, -3.47, -3.85, -3.52, -3.7, -3.84, -3.41, -2.96, -3.26, -2.9, -4.13, -3.96, -3.74, -3.85, -3.44, -4.13, -4.13, -3.96, -3.96, -3.84, -3.74, -4.13, -3.96, -4.13, -3.53, -3.96]
P8_M_Y = [-0.53, -0.54, -0.89, -1.14, -1.14, -1.28, -1.34, -1.44, -1.36, -1.6, -1.57, -1.65, -1.69, -1.69, -1.69, -1.67, -1.69, -1.76, -1.85, -1.9, -1.9, -1.93, -2.06, -2.02, -2.08, -2.2, -2.11, -2.44, -2.52, -2.24, -2.27, -2.38, -2.43, -2.57, -2.55, -2.64, -2.59, -2.78, -2.61, -2.78, -2.78, -2.92, -3.22, -3.44, -3.64]
P8_BD_X = [-2.72, -2.72, -2.72, -2.72, -2.72, -2.66, -2.66, -2.66, -2.66, -2.6, -2.6, -2.6, -2.55, -2.55]
P8_BD_Y = [-4.05, -3.9, -3.8, -3.65, -3.55, -4.05, -3.9, -3.75, -3.6, -4.05, -3.9, -3.75, -4.0, -3.9]
P8_B_X = [-2.03, -2.45, -2.58, -2.57, -2.59, -2.63, -2.39, -2.52, -2.59, -2.44, -2.52, -2.5]
P8_B_Y = [-0.69, -0.95, -1.39, -3.06, -3.12, -3.21, -3.96, -3.7, -3.56, -4.09, -3.94, -4.09]
P8_O_X = [-0.3, -0.27, -1.76, -2.12, -2.61, -2.58]
P8_O_Y = [1.82, 1.44, 0.03, -0.35, -0.6, -1.14]
P8_K_X = [-3.84]
P8_K_Y = [-1.84]

# 9 7mer-Ancestral
P9_GD_X = [-3.52, -3.52, -3.52, -3.52, -3.52, -3.52, -3.52, -3.52, -3.52, -3.52, -3.52, -3.4, -3.4, -3.4, -3.4, -3.4, -3.4, -3.4, -3.4, -3.4, -3.3, -3.3, -3.3, -3.3, -3.3, -3.3, -3.17, -3.17, -3.17, -3.17, -3.05, -3.05, -3.05, -2.92, -2.8, -2.67, -2.55, -2.42, -2.3, -2.17, -2.05, -1.92, -2.85, -2.72, -2.6, -2.47, -2.35, -2.22, -2.1, -1.95, -2.5, -2.35, -2.2, -2.08, -1.95, -2.3, -2.12, -1.98, -3.3, -3.3, -3.2, -3.2]
P9_GD_Y = [-1.95, -2.1, -2.25, -2.45, -2.65, -2.85, -3.05, -3.2, -3.35, -3.5, -3.66, -2.0, -2.15, -2.35, -2.55, -2.75, -2.95, -3.15, -3.35, -3.66, -2.5, -2.75, -3.0, -3.2, -3.4, -3.66, -3.0, -3.2, -3.4, -3.66, -3.25, -3.45, -3.66, -3.66, -3.66, -3.66, -3.66, -3.66, -3.66, -3.66, -3.66, -3.66, -3.5, -3.5, -3.5, -3.5, -3.5, -3.5, -3.5, -3.5, -3.3, -3.3, -3.3, -3.3, -3.3, -3.1, -3.15, -3.15, -2.1, -2.3, -2.35, -2.55]
P9_GM_X = [-3.1, -3.2, -3.05, -3.1, -2.95, -3.0, -2.85, -2.7, -2.55, -2.4, -2.25, -2.1, -1.95, -2.85, -3.3, -3.15, -3.0, -3.4, -2.9, -2.8, -2.65, -1.85, -1.85, -1.85]
P9_GM_Y = [-2.0, -1.85, -2.2, -2.4, -2.6, -2.85, -3.05, -3.2, -3.15, -2.95, -2.9, -2.85, -3.0, -2.85, -1.6, -1.7, -1.65, -1.75, -2.3, -1.95, -1.75, -3.45, -3.6, -3.2]
P9_GS_X = [-3.25, -3.1, -2.95, -2.8, -2.65, -2.5, -2.35, -2.2, -3.2, -3.0, -2.85, -2.7, -2.55, -2.4, -2.25, -3.05, -2.9, -2.75, -2.6, -2.45, -2.3, -2.15, -2.05, -3.15, -3.0, -2.85, -2.7, -2.55, -2.4, -2.2, -2.0, -2.95, -2.8, -2.65, -2.5, -2.35, -2.15, -2.9, -2.7, -2.55, -2.35, -2.15, -1.9, -2.8, -2.6, -2.4, -1.85, -2.2, -2.1, -1.95, -1.85, -2.75, -2.6, -2.45, -3.1, -2.9]
P9_GS_Y = [-1.3, -1.25, -1.2, -1.1, -1.05, -1.0, -0.9, -0.75, -1.5, -1.45, -1.4, -1.35, -1.2, -1.15, -1.05, -1.8, -1.7, -1.6, -1.55, -1.45, -1.35, -1.05, -0.65, -2.05, -2.0, -1.9, -1.85, -1.75, -1.65, -1.5, -1.75, -2.25, -2.2, -2.3, -2.1, -2.0, -1.95, -2.6, -2.5, -2.7, -2.45, -2.3, -2.0, -2.8, -2.9, -2.75, -2.5, -2.7, -2.6, -2.85, -2.4, -3.1, -3.05, -2.95, -2.35, -2.65]
P9_MD_X = [-3.55, -3.5, -3.46, -3.55, -3.5]
P9_MD_Y = [-1.82, -1.72, -1.66, -1.68, -1.82]
P9_M_X = [-2.16, -2.16, -1.94, -2.46, -2.55, -2.42, -2.84, -2.72, -2.64, -2.57, -2.9, -2.07, -2.77, -2.3, -2.4, -3.04, -2.9, -2.79, -3.25, -3.13, -2.83, -2.64, -2.53, -3.2, -3.05, -2.9, -2.64, -3.27, -3.46, -3.31, -3.16, -3.07, -3.53, -3.31, -3.39, -2.86, -2.7, -2.95, -3.0, -2.8, -2.75, -2.9, -3.25, -3.42, -3.35]
P9_M_Y = [0.35, 0.13, 0.1, 0.09, -0.05, -0.15, -0.13, -0.11, -0.21, -0.25, -0.29, -0.28, -0.51, -0.55, -0.67, -0.63, -0.63, -0.71, -0.81, -0.83, -0.9, -0.75, -0.9, -0.98, -1.06, -1.14, -0.97, -1.17, -1.32, -1.34, -1.34, -1.4, -1.62, -1.5, -1.58, -0.7, -0.82, -0.85, -0.95, -0.95, -0.7, -0.95, -1.1, -1.4, -1.45]
P9_BD_X = [-1.82, -1.82, -1.82, -1.75, -1.75, -1.68, -1.62, -1.55, -1.53]
P9_BD_Y = [-3.72, -3.55, -3.42, -3.72, -3.55, -3.72, -3.72, -3.72, -3.58]
P9_B_X = [-0.57, -1.31, -1.36, -1.46, 1.12, -1.56, -1.72, -1.09, -1.43, -1.75, -1.47, 0.33, 0.44, 0.39, -0.05, -0.09, 0.01, -0.23, -0.31, -0.56, -0.59, -0.76, -0.81, -0.64, -0.79, -0.87, -0.98, -1.11, -1.26, -1.44, -1.64, -1.72, -1.81, -1.82, -1.53, -1.62, -1.36, -1.46, -1.33, -1.2, -1.04, -1.79, -1.72, -1.81, -1.66, -1.57, -1.5, -1.37, -1.16, -1, -0.98, -1.31, -1.2, -1.11, -1.01, -1.21, -0.81, -1.42, -1.57, -1.76]
P9_B_Y = [0.69, 0.26, -0.01, -0.33, -1.45, -1.3, -1.46, -1.57, -1.75, -2.21, -2.2, -2.16, -2.27, -2.45, -2.41, -2.6, -2.79, -2.91, -3.2, -2.69, -2.79, -2.91, -3.08, -3.25, -3.41, -2.61, -2.71, -2.45, -2.71, -2.57, -2.61, -2.6, -2.71, -2.46, -2.69, -2.87, -2.89, -3.05, -3.11, -3.14, -3.25, -3.14, -3.21, -3.34, -3.4, -3.46, -3.35, -3.35, -3.42, -3.4, -3.33, -3.59, -3.59, -3.59, -3.59, -3.72, -3.72, -3.72, -3.72, -3.72]
P9_O_X = [-0.71, -1.31, -1.53, -1.68, -1.53, -1.42, -1.64]
P9_O_Y = [1.44, 1.03, 0.87, 0.68, 0.6, 0.26, 0.14]
P9_K_X, P9_K_Y = [], []

TITLES = ["LoopSwap588-Plasmid", "LoopSwap588-AAV", "LoopSwap588-R1", "LoopSwap588-R2", "LoopSwap588-R3", "LoopSwap588-R4", "LoopSwap588-R5c", "AAV2-7mer-R5c", "7mer-Ancestral"]
TICKS_DEFAULT = [-4, -2, 0, 2]
YTICKS_DEFAULT = [3, 1, -1, -3, -5]
LEGEND_A = ["Anc-7mer", "AAV2-7mer*", "Loop Swap~588"]
LEGEND_B = ["Loop Swap~588", "Anc-7mer", "AAV2-7mer (NHP)"]


def sup(e):
    return f"10<sup>{e}</sup>"


fig = go.Figure()


def dom_x(l, r):
    return [l / W, r / W]


def dom_y(t, b):
    return [1 - b / H, 1 - t / H]


GREEN, RED, BLUE = "#55A868", "#C44E52", "#4C72B0"
THICK = dict(automargin=False, showgrid=True, gridcolor="#cccccc", gridwidth=4, showline=True, linecolor="#cccccc", linewidth=4, mirror=True, zeroline=False, ticks="", color=INK, tickfont=dict(family=FONT, size=22, color=INK), ticklabeloverflow="allow")
XTICK = dict(family=FONT, size=18.5, color=INK)

# A
for name, y, c in [(LEGEND_A[0], A_ANC, GREEN), (LEGEND_A[1], A_AAV2, RED), (LEGEND_A[2], A_LOOP, BLUE)]:
    fig.add_trace(go.Scatter(x=ROUNDS[: len(y)], y=y, name=name, mode="lines", line=dict(color=c, width=7), xaxis="x", yaxis="y", showlegend=False))
fig.update_layout(
    xaxis=dict(THICK, domain=dom_x(90, 551), range=[0, 7], type="category", categoryorder="array", categoryarray=ROUNDS, tickangle=-45, anchor="y", tickfont=XTICK, ticklabelstandoff=-6),
    yaxis=dict(THICK, domain=dom_y(44, 347), type="log", range=[3, 7], tickvals=[1e3, 1e4, 1e5, 1e6, 1e7], ticktext=[sup(i) for i in range(3, 8)], anchor="x"),
)
# B
for name, x, y, c in [(LEGEND_B[0], B_LOOP_X, B_LOOP_Y, BLUE), (LEGEND_B[1], B_ANC_X, B_ANC_Y, GREEN), (LEGEND_B[2], B_AAV2_X, B_AAV2_Y, RED)]:
    fig.add_trace(go.Scatter(x=x, y=y, name=name, mode="lines", line=dict(color=c, width=7), xaxis="x2", yaxis="y2", showlegend=False))
fig.update_layout(
    xaxis2=dict(THICK, domain=dom_x(659, 1113), range=[0, 100], tickvals=[0, 20, 40, 60, 80, 100], tickangle=-45, anchor="y2", tickfont=XTICK, ticklabelstandoff=-10),
    yaxis2=dict(THICK, domain=dom_y(45, 347), type="log", range=[-4, 2], tickvals=[10.0 ** i for i in range(-4, 3)], ticktext=[sup(i) for i in range(-4, 3)], anchor="x2"),
)

annots, shapes = [], []


def paper_text(text, px, py, size, anchor="center", angle=0, color=INK):
    annots.append(dict(text=text, x=px / W, y=1 - py / H, xref="paper", yref="paper", showarrow=False, xanchor=anchor, yanchor="middle", textangle=angle, font=dict(family=FONT, size=size, color=color)))


for labels, colors, x0, x1, tx, ys in [
    (LEGEND_A, [GREEN, RED, BLUE], 367, 401, 403, [55, 75, 94]),
    (LEGEND_B, [BLUE, GREEN, RED], 925, 959, 961, [58, 78, 97]),
]:
    for lab, c, yy in zip(labels, colors, ys):
        shapes.append(dict(type="line", xref="paper", yref="paper", x0=x0 / W, x1=x1 / W, y0=1 - yy / H, y1=1 - yy / H, line=dict(color=c, width=6)))
        paper_text(lab, tx, yy, 17.7, anchor="left")

# C
LEFTS = [70, 418, 767]
TOPS = [501, 836, 1171]
PANEL_W, PANEL_H = 270, 253
GRID = "#dedede"
ROW_STANDOFF = [-5, -4, 0]
for i in range(9):
    n = i + 1
    ax = n + 2
    col, row = i % 3, i // 3
    l, t = LEFTS[col], TOPS[row]
    xr, yr = [-5, 3], [-5, 3]
    xg = list(range(-4, 3))
    yg = list(range(-4, 3))
    xtv, xtt = TICKS_DEFAULT, TICKS_DEFAULT
    ytv, ytt = YTICKS_DEFAULT, YTICKS_DEFAULT
    if n == 8:
        xr, yr = [-5, 1], [-5, 2]
        xg = list(range(-4, 1))
        yg = list(range(-4, 2))
        xtv = [-4.13, -2.4, -0.62, 0.82]
        ytv, ytt = [2, 0, -2, -4], [2, 0, -2, -4]
    if n == 9:
        xr, yr = [-4, 2], [-4, 2]
        xg = list(range(-3, 2))
        yg = list(range(-3, 2))
        xtv = [-4, -2, 0, 2]
        ytv, ytt = [2, 0, -2, -4], [2, 0, -2, -4]
    g = globals()
    dense = "#a0a0a0" if n == 9 else "#888888"
    dense_size = {1: 6, 8: 10, 9: 11}.get(n, 10)
    LAYERS = [
        ("GS", "rgb(128,128,128)", 0.25, 6.5),
        ("GM", dense, 0.55, 6.5),
        ("GD", dense, 1.0, dense_size),
        ("GC", dense, 1.0, 6.5),
        ("B", "#0000ff", 0.5, 6.5),
        ("BD", "#0000ff", 1.0, 6.5),
        ("M", "#ff00ff", 0.55, 6.5),
        ("MD", "#ff00ff", 1.0, 6.5),
        ("O", "#ff8c00", 0.95, 6.5),
        ("K", "#000000", 1.0, 6.5),
    ]
    for key, color, op, size in LAYERS:
        xs, ys = g.get(f"P{n}_{key}_X", []), g.get(f"P{n}_{key}_Y", [])
        if not xs:
            continue
        fig.add_trace(go.Scatter(x=[10.0 ** v for v in xs], y=[10.0 ** v for v in ys], mode="markers", showlegend=False, marker=dict(color=color, opacity=op, size=size, line=dict(width=0)), xaxis=f"x{ax}", yaxis=f"y{ax}"))
    common = dict(automargin=False, type="log", showgrid=False, showline=True, linecolor=GRID, linewidth=1.5, mirror=True, zeroline=False, ticks="", tickfont=dict(family=FONT, size=22, color=INK), tickmode="array", ticklabeloverflow="allow")
    fig.update_layout({
        f"xaxis{ax}": dict(common, domain=dom_x(l, l + PANEL_W), range=xr, tickvals=[10.0 ** v for v in xtv], ticktext=[sup(v) for v in xtt], anchor=f"y{ax}", tickangle=0, ticklabelstandoff=ROW_STANDOFF[row], minor=dict(tickmode="array", tickvals=[10.0 ** v for v in xg], showgrid=True, gridcolor=GRID, gridwidth=1.5, ticks="")),
        f"yaxis{ax}": dict(common, domain=dom_y(t, t + PANEL_H), range=yr, tickvals=[10.0 ** v for v in ytv], ticktext=[sup(v) for v in ytt], anchor=f"x{ax}", minor=dict(tickmode="array", tickvals=[10.0 ** v for v in yg], showgrid=True, gridcolor=GRID, gridwidth=1.5, ticks="")),
    })
    title_cx = [208, 553, 899, 197, 547, 895, 203, 531, 886][i]
    title_y = [486, 486, 486, 820, 820, 820, 1154, 1154, 1154][i]
    paper_text(TITLES[i], title_cx, title_y, 22)

for txt, x, y in [("A", 21, 20), ("B", 588, 19), ("C", 21, 464)]:
    paper_text(f"<b>{txt}</b>", x, y, 26, color="#000000")
paper_text("Number unique variants", 22, 201, 19, angle=-90)
paper_text("Number of reads", 588, 183, 19, angle=-90)
paper_text("Top 100 variants", 883, 392, 19)

fig.update_layout(width=W, height=H, margin=dict(l=0, r=0, t=0, b=0), paper_bgcolor="white", plot_bgcolor="white", annotations=annots, shapes=shapes, font=dict(family=FONT, color=INK), hovermode=False, showlegend=False)
fig.write_html("out.html", config={"displayModeBar": False}, post_script="document.body.style.margin='0';document.body.style.overflow='hidden';")
